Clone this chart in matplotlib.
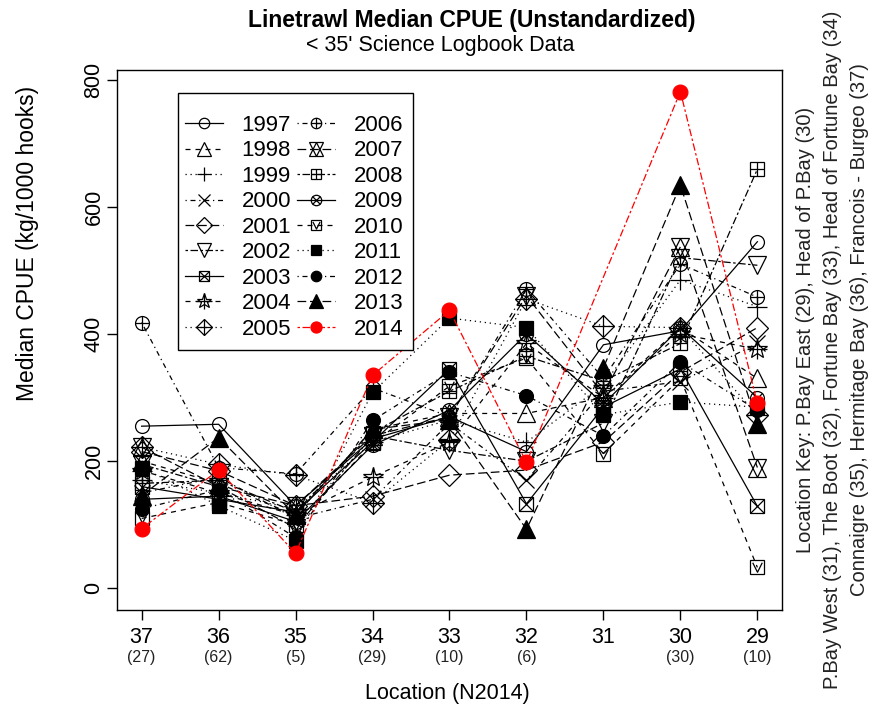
import numpy as np
import matplotlib.pyplot as plt
from matplotlib.path import Path
from matplotlib.patches import Rectangle

plt.rcParams['font.family'] = ['Liberation Sans', 'DejaVu Sans']

# Locations (x axis) and number of 2014 sets per location
sites = ['37', '36', '35', '34', '33', '32', '31', '30', '29']
n2014 = ['(27)', '(62)', '(5)', '(29)', '(10)', '(6)', '', '(30)', '(10)']
years = [str(y) for y in range(1997, 2015)]

# Median CPUE per year, by location 37 -> 29
cpue_1997 = [255, 258, 130, 235, 270, 215, 383, 405, 545]
cpue_1998 = [200, 165, 115, 250, 275, 275, 300, 410, 330]
cpue_1999 = [170, 150, 125, 230, 265, 230, 320, 485, 443]
cpue_2000 = [150, 175, 110, 140, 260, 170, 310, 325, 385]
cpue_2001 = [215, 185, 130, 145, 178, 186, 230, 340, 410]
cpue_2002 = [195, 160, 95, 240, 217, 200, 260, 520, 508]
cpue_2003 = [160, 140, 120, 230, 345, 133, 285, 345, 129]
cpue_2004 = [185, 150, 115, 175, 230, 385, 300, 400, 376]
cpue_2005 = [222, 195, 178, 135, 233, 455, 412, 410, 272]
cpue_2006 = [418, 190, 180, 315, 270, 470, 330, 510, 458]
cpue_2007 = [222, 160, 130, 240, 270, 460, 305, 537, 190]
cpue_2008 = [165, 170, 120, 245, 310, 365, 326, 385, 659]
cpue_2009 = [140, 145, 105, 225, 280, 400, 290, 410, 300]
cpue_2010 = [110, 135, 100, 228, 318, 362, 212, 330, 33]
cpue_2011 = [190, 130, 75, 308, 425, 410, 273, 293, 285]
cpue_2012 = [125, 155, 80, 264, 340, 303, 240, 356, 280]
cpue_2013 = [146, 237, 115, 250, 265, 93, 347, 634, 258]
cpue_2014 = [94, 186, 55, 335, 437, 198, np.nan, 781, 291]

series = [cpue_1997, cpue_1998, cpue_1999, cpue_2000, cpue_2001, cpue_2002,
          cpue_2003, cpue_2004, cpue_2005, cpue_2006, cpue_2007, cpue_2008,
          cpue_2009, cpue_2010, cpue_2011, cpue_2012, cpue_2013, cpue_2014]

# R style line types 1..6 recycled
ltys = ['-', (0, (4, 4)), (0, (1, 3)), (0, (1, 3, 4, 3)), (0, (7, 3)), (0, (2, 2, 6, 2))]

vshape = Path([(-1, 1), (0, -1), (1, 1)], [Path.MOVETO, Path.LINETO, Path.LINETO])
# R pch 1..17 built from matplotlib markers (marker, filled, size factor)
pch = [
    [('o', False, 0.8)],
    [('^', False, 1.0)],
    [('+', False, 1.1)],
    [('x', False, 0.9)],
    [('D', False, 0.9)],
    [('v', False, 1.0)],
    [('s', False, 0.8), ('x', False, 0.8)],
    [('*', False, 1.2), ('+', False, 1.2)],
    [('D', False, 0.9), ('+', False, 1.25)],
    [('o', False, 0.8), ('+', False, 0.8)],
    [('^', False, 1.0), ('v', False, 1.0)],
    [('s', False, 0.8), ('+', False, 0.8)],
    [('o', False, 0.8), ('x', False, 0.55)],
    [('s', False, 0.8), (vshape, False, 0.55)],
    [('s', True, 0.8)],
    [('o', True, 0.8)],
    [('^', True, 1.05)],
    [('o', True, 0.85)],
]

fig = plt.figure(figsize=(8.79, 7.12), dpi=100)
ax = fig.add_axes([117 / 879, 102 / 712, 665 / 879, 540 / 712])

x = np.arange(1, len(sites) + 1)
ms = 12.5
handles = []
for i, (yr, vals) in enumerate(zip(years, series)):
    col = 'red' if yr == '2014' else 'black'
    vals = np.array(vals, dtype=float)
    ok = ~np.isnan(vals)
    parts = []
    for j, (mk, filled, sc) in enumerate(pch[i]):
        ls = ltys[i % 6] if j == 0 else 'none'
        h, = ax.plot(x[ok], vals[ok], linestyle=ls, color=col, lw=0.9,
                     marker=mk, ms=ms * sc, mec=col, mew=0.9,
                     mfc=col if filled else 'none', zorder=3 + i)
        parts.append(h)
    handles.append(tuple(parts))

ax.set_xlim(0.68, 9.32)
ax.set_ylim(-34, 815)
ax.set_yticks([0, 200, 400, 600, 800])
ax.set_yticklabels(['0', '200', '400', '600', '800'], rotation=90, va='center', fontsize=15.5)
ax.set_xticks(x)
ax.set_xticklabels(sites, fontsize=15.5)
for xi, lab in zip(x, n2014):
    ax.text(xi, -0.088, lab, transform=ax.get_xaxis_transform(), ha='center',
            va='center', fontsize=11.5, color='#222222')
ax.tick_params(direction='out', length=7, width=1)
ax.tick_params(axis='y', pad=2)
ax.tick_params(axis='x', pad=5)
for s in ax.spines.values():
    s.set_linewidth(1)

fig.text(447 / 879, 1 - 693 / 712, 'Location (N2014)', ha='center', va='center',
         fontsize=15.5)
fig.text(28 / 879, 1 - 243 / 712, 'Median CPUE (kg/1000 hooks)', rotation=90,
         ha='center', va='center', fontsize=16.5)

fig.text(472 / 879, 1 - 21 / 712, 'Linetrawl Median CPUE (Unstandardized)',
         ha='center', va='center', fontsize=16.5, fontweight='bold')
fig.text(440 / 879, 1 - 46 / 712, "< 35' Science Logbook Data",
         ha='center', va='center', fontsize=15.5)

key = ['Location Key: P.Bay East (29), Head of P.Bay (30)',
       'P.Bay West (31), The Boot (32), Fortune Bay (33), Head of Fortune Bay (34)',
       'Connaigre (35), Hermitage Bay (36), Francois - Burgeo (37)']
key_y = [330, 350, 330]
for k, line in enumerate(key):
    fig.text((806 + 27 * k) / 879, 1 - key_y[k] / 712, line, rotation=90,
             ha='center', va='center', fontsize=14.5, color='#222222')

# legend box drawn by hand (R style padding), entries on top
ax.add_patch(Rectangle((178 / 879, 1 - 350 / 712), 235 / 879, 257 / 712,
                       transform=fig.transFigure, facecolor='white',
                       edgecolor='black', lw=1, zorder=30, clip_on=False))
leg = ax.legend(handles, years, ncol=2, loc='upper left',
                bbox_to_anchor=(185 / 879, 1 - 115 / 712),
                bbox_transform=fig.transFigure, fontsize=16, frameon=False,
                handlelength=1.7, handletextpad=0.85, columnspacing=0.27,
                labelspacing=0.2, borderpad=0, borderaxespad=0,
                markerscale=0.75)
leg.set_zorder(40)

fig.savefig('out.png', dpi=100)
